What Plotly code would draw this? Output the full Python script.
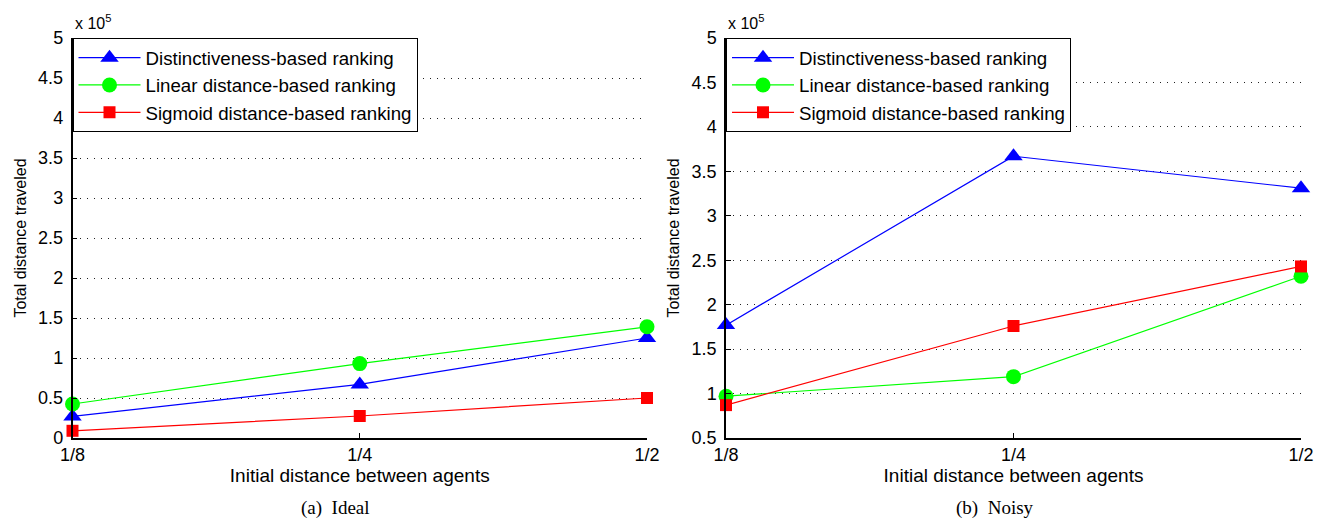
import plotly.graph_objects as go

# ---- data (values in units of 10^5) ----
x_labels = ["1/8", "1/4", "1/2"]
series_names = ["Distinctiveness-based ranking", "Linear distance-based ranking", "Sigmoid distance-based ranking"]

ideal_distinctiveness = [0.27, 0.67, 1.25]
ideal_linear = [0.425, 0.93, 1.39]
ideal_sigmoid = [0.09, 0.275, 0.50]

noisy_distinctiveness = [1.77, 3.67, 3.31]
noisy_linear = [0.97, 1.19, 2.32]
noisy_sigmoid = [0.87, 1.76, 2.43]

y_ticks = [0, 0.5, 1, 1.5, 2, 2.5, 3, 3.5, 4, 4.5, 5]
captions = ["(a)  Ideal", "(b)  Noisy"]
x_title = "Initial distance between agents"
y_title = "Total distance traveled"
exp_label = "x 10<sup>5</sup>"

# ---- styles ----
W, H = 1325, 520
colors = ["#0000FF", "#00FF00", "#FF0000"]
symbols = ["triangle-up", "circle", "square"]
sizes = [16, 15, 12]
SANS = "Liberation Sans"
SERIF = "Liberation Serif"

def px_x(p):
    return p / W

def px_y(p):
    return 1 - p / H

dom_top, dom_bot = 38, 438
left_dom = [px_x(72.5), px_x(647)]
right_dom = [px_x(726), px_x(1301)]
ydom = [px_y(dom_bot), px_y(dom_top)]
caption_x = [335, 995]

fig = go.Figure()

panels = [
    ("x", "y", "legend", [ideal_distinctiveness, ideal_linear, ideal_sigmoid]),
    ("x2", "y2", "legend2", [noisy_distinctiveness, noisy_linear, noisy_sigmoid]),
]
for xa, ya, lg, vals in panels:
    for i, v in enumerate(vals):
        fig.add_trace(go.Scatter(
            x=x_labels, y=v, xaxis=xa, yaxis=ya, legend=lg,
            name=series_names[i], mode="lines+markers",
            line=dict(color=colors[i], width=1.2),
            marker=dict(symbol=symbols[i], size=sizes[i], color=colors[i],
                        line=dict(width=0)),
            cliponaxis=False,
        ))

axis_common = dict(
    showline=True, linecolor="black", linewidth=1.5, mirror=False,
    ticks="inside", tickcolor="black", ticklen=5, tickwidth=1,
    tickfont=dict(family=SANS, size=18, color="black"),
    zeroline=False, automargin=False,
)

xcommon = dict(axis_common, type="category", range=[0, 2], showgrid=False,
               title=dict(text=x_title, font=dict(family=SANS, size=19, color="black"), standoff=0))
ycommon = dict(axis_common, tickvals=y_ticks, showgrid=True, gridcolor="#222222",
               griddash="1px,6px", gridwidth=1, ticklabelstandoff=4,
               title=dict(text=y_title, font=dict(family=SANS, size=16, color="black"), standoff=8))

legend_common = dict(y=ydom[1], xanchor="left", yanchor="top",
                     bgcolor="white", bordercolor="black", borderwidth=1,
                     font=dict(family=SANS, size=18.7, color="black"), itemwidth=62,
                     tracegroupgap=0)

fig.update_layout(
    width=W, height=H,
    margin=dict(l=0, r=0, t=0, b=0, autoexpand=False),
    paper_bgcolor="white", plot_bgcolor="white",
    xaxis=dict(xcommon, domain=left_dom, anchor="y"),
    yaxis=dict(ycommon, domain=ydom, range=[0, 5], anchor="x"),
    xaxis2=dict(xcommon, domain=right_dom, anchor="y2"),
    yaxis2=dict(ycommon, domain=ydom, range=[0.5, 5], anchor="x2"),
    legend=dict(legend_common, x=left_dom[0]),
    legend2=dict(legend_common, x=right_dom[0]),
    showlegend=True,
)

# exponent labels and captions
for dom in (left_dom, right_dom):
    fig.add_annotation(text=exp_label, xref="paper", yref="paper",
                       x=dom[0], y=px_y(dom_top - 4), xanchor="left", yanchor="bottom",
                       showarrow=False, font=dict(family=SANS, size=16, color="black"))
for cap, cx in zip(captions, caption_x):
    fig.add_annotation(text=cap, xref="paper", yref="paper",
                       x=px_x(cx), y=px_y(508), xanchor="center", yanchor="middle",
                       showarrow=False, font=dict(family=SERIF, size=19, color="black"))

fig.write_html("out.html")
